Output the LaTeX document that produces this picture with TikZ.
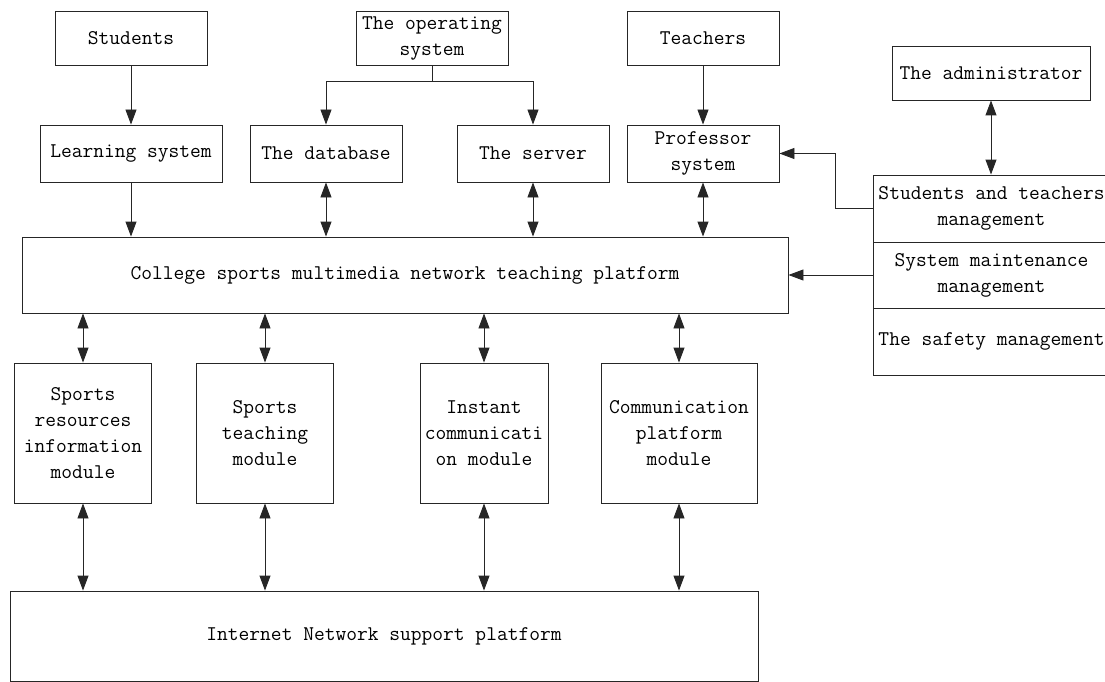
\documentclass[tikz,border=0pt]{standalone}
\usetikzlibrary{arrows.meta}
\begin{document}
\begin{tikzpicture}[x=1pt,y=-1pt,
  box/.style={draw=black!85, line width=0.9pt, inner sep=0pt, align=center,
    font=\ttfamily\fontsize{20.9}{26}\selectfont},
  arr/.style={draw=black!85, line width=0.9pt, -{Triangle[length=15pt,width=11pt]}},
  darr/.style={draw=black!85, line width=0.9pt, {Triangle[length=15pt,width=11pt]}-{Triangle[length=15pt,width=11pt]}}]
\useasboundingbox (0,0) rectangle (1105,682);
% top row
\node[box, minimum width=152pt, minimum height=54pt] (stu) at (131,38) {Students};
\node[box, minimum width=152pt, minimum height=54pt] (os) at (432,38) {The operating\\system};
\node[box, minimum width=152pt, minimum height=54pt] (tea) at (703,38) {Teachers};
\node[box, minimum width=198pt, minimum height=54pt] (adm) at (991,73) {The administrator};
% second row
\node[box, minimum width=182pt, minimum height=57pt] (learn) at (131,153.5) {Learning system};
\node[box, minimum width=152pt, minimum height=57pt] (db) at (326,153.5) {The database};
\node[box, minimum width=152pt, minimum height=57pt] (srv) at (533,153.5) {The server};
\node[box, minimum width=152pt, minimum height=57pt] (prof) at (703,153.5) {Professor\\system};
% platform
\node[box, minimum width=766pt, minimum height=76pt] (plat) at (405,275) {College sports multimedia network teaching platform};
% management stack
\node[box, minimum width=237pt, minimum height=67pt] (stm1) at (991.5,208.5) {Students and teachers\\management};
\node[box, minimum width=237pt, minimum height=66pt] (stm2) at (991.5,275) {System maintenance\\management};
\node[box, minimum width=237pt, minimum height=67pt] (stm3) at (991.5,341.5) {The safety management};
% modules
\node[box, minimum width=137pt, minimum height=140pt] (mod1) at (83,433) {Sports\\resources\\information\\module};
\node[box, minimum width=137pt, minimum height=140pt] (mod2) at (265,433) {Sports\\teaching\\module};
\node[box, minimum width=128pt, minimum height=140pt] (mod3) at (484,433) {Instant\\communicati\\on module};
\node[box, minimum width=156pt, minimum height=140pt] (mod4) at (679,433) {Communication\\platform\\module};
% internet
\node[box, minimum width=748pt, minimum height=90pt] (inet) at (384,636) {Internet Network support platform};
% connectors
\coordinate (fork) at (432,81);
\draw[arr] (stu.south) -- (learn.north);
\draw[arr] (learn.south) -- (learn.south |- plat.north);
\draw[arr] (os.south) -- (fork) -| (db.north);
\draw[arr] (fork) -| (srv.north);
\draw[arr] (tea.south) -- (prof.north);
\draw[darr] (db.south) -- (db.south |- plat.north);
\draw[darr] (srv.south) -- (srv.south |- plat.north);
\draw[darr] (prof.south) -- (prof.south |- plat.north);
\draw[darr] (adm.south) -- (adm.south |- stm1.north);
\draw[arr] (stm1.west) -- ++(-37,0) |- (prof.east);
\draw[arr] (stm2.west) -- (plat.east);
\foreach \m in {mod1,mod2,mod3,mod4}{
  \draw[darr] (\m.north |- plat.south) -- (\m.north);
  \draw[darr] (\m.south) -- (\m.south |- inet.north);
}
\end{tikzpicture}
\end{document}
